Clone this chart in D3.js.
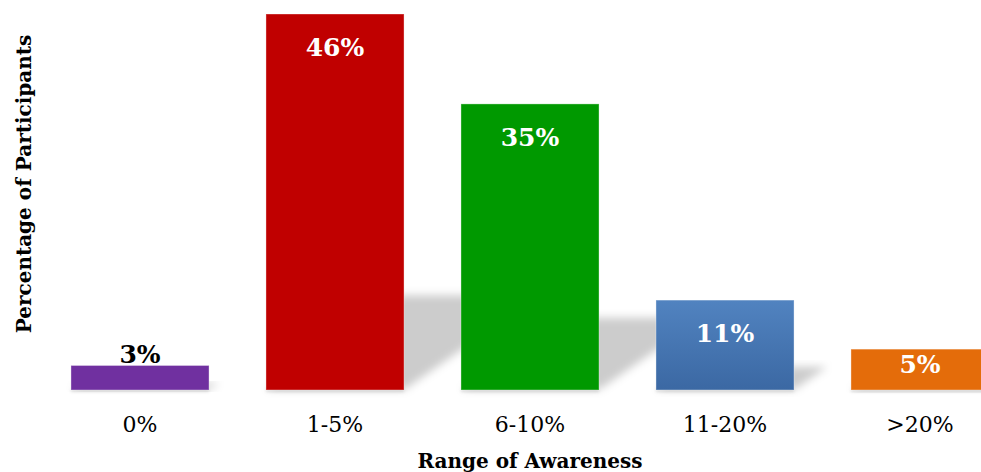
<!DOCTYPE html>
<html>
<head>
<meta charset="utf-8">
<script src="https://cdn.jsdelivr.net/npm/d3@7"></script>
<style>
  html, body { margin: 0; padding: 0; background: #fff; }
  svg { display: block; }
  text { font-family: "DejaVu Serif", "Liberation Serif", serif; }
</style>
</head>
<body>
<svg id="chart" width="981" height="472"></svg>
<script>
// Share of participants by range of awareness
const categories = ["0%", "1-5%", "6-10%", "11-20%", ">20%"];
const values = [3, 46, 35, 11, 5];
const valueLabels = ["3%", "46%", "35%", "11%", "5%"];
const barColors = ["#7030a0", "#c00000", "#009900", "url(#blueFill)", "#e46c0a"];
const xTitle = "Range of Awareness";
const yTitle = "Percentage of Participants";

const svg = d3.select("#chart");

const x = d3.scaleBand()
  .domain(categories)
  .range([42.5, 1017.5])
  .paddingInner(0.292)
  .paddingOuter(0.146);

const y = d3.scaleLinear()
  .domain([0, 46])
  .range([390, 14]);

const defs = svg.append("defs");
const blue = defs.append("linearGradient")
  .attr("id", "blueFill").attr("x1", 0).attr("y1", 0).attr("x2", 0).attr("y2", 1);
blue.append("stop").attr("offset", "0%").attr("stop-color", "#5183c0");
blue.append("stop").attr("offset", "100%").attr("stop-color", "#3b68a3");

const blur = defs.append("filter").attr("id", "shadowBlur")
  .attr("x", "-30%").attr("y", "-30%").attr("width", "160%").attr("height", "160%");
blur.append("feGaussianBlur").attr("stdDeviation", 4);

const soft = defs.append("filter").attr("id", "baseBlur")
  .attr("x", "-10%").attr("y", "-200%").attr("width", "120%").attr("height", "500%");
soft.append("feGaussianBlur").attr("stdDeviation", 1.5);

const data = categories.map((c, i) => ({ c, v: values[i], label: valueLabels[i], color: barColors[i] }));
const base = y(0);
const bw = x.bandwidth();

// perspective shadows cast up and to the right of each bar
svg.append("g").selectAll("path").data(data).join("path")
  .attr("d", d => {
    const x0 = x(d.c) + 0.7, x1 = x0 + bw;
    const h = base - y(d.v);
    const sh = 0.25 * h, off = 0.36 * h;
    const b = base - 0.7;
    return `M${x0},${b}L${x1},${b}L${x1 + off},${b - sh}L${x0 + off},${b - sh}Z`;
  })
  .attr("fill", "#000")
  .attr("fill-opacity", 0.2)
  .attr("filter", "url(#shadowBlur)");

// faint shade under each bar's foot
svg.append("g").selectAll("rect").data(data).join("rect")
  .attr("x", d => x(d.c))
  .attr("y", base - 1)
  .attr("width", bw)
  .attr("height", 3)
  .attr("fill", "#000")
  .attr("fill-opacity", 0.12)
  .attr("filter", "url(#baseBlur)");

// bars
svg.append("g").selectAll("rect").data(data).join("rect")
  .attr("x", d => x(d.c))
  .attr("y", d => y(d.v))
  .attr("width", bw)
  .attr("height", d => base - y(d.v))
  .attr("fill", d => d.color)
  .attr("stroke", "#fff")
  .attr("stroke-opacity", 0.35)
  .attr("stroke-width", 1);

// value labels: inside the bar top, or just above when the bar is too short
svg.append("g").selectAll("text").data(data).join("text")
  .attr("x", d => x(d.c) + bw / 2)
  .attr("y", d => {
    const top = y(d.v);
    if (base - top < 30) return top - 2;
    return Math.min(top + 42, base - 17);
  })
  .attr("text-anchor", "middle")
  .attr("font-weight", "bold")
  .attr("font-size", 25)
  .attr("fill", d => (base - y(d.v) < 30 ? "#000" : "#fff"))
  .text(d => d.label);

// category axis labels
const xAxis = d3.axisBottom(x).tickSize(0).tickPadding(0);
const gx = svg.append("g")
  .attr("transform", `translate(0,${base})`)
  .call(xAxis);
gx.select(".domain").remove();
gx.selectAll("text")
  .attr("y", 42)
  .attr("dy", 0)
  .attr("font-size", 22)
  .attr("font-family", "'DejaVu Serif', serif")
  .attr("fill", "#000");

// axis titles
svg.append("text")
  .attr("x", 530)
  .attr("y", 468)
  .attr("text-anchor", "middle")
  .attr("font-weight", "bold")
  .attr("font-size", 20)
  .attr("fill", "#000")
  .text(xTitle);

svg.append("text")
  .attr("transform", "translate(31,184) rotate(-90)")
  .attr("text-anchor", "middle")
  .attr("font-weight", "bold")
  .attr("font-size", 20)
  .attr("fill", "#000")
  .text(yTitle);
</script>
</body>
</html>
